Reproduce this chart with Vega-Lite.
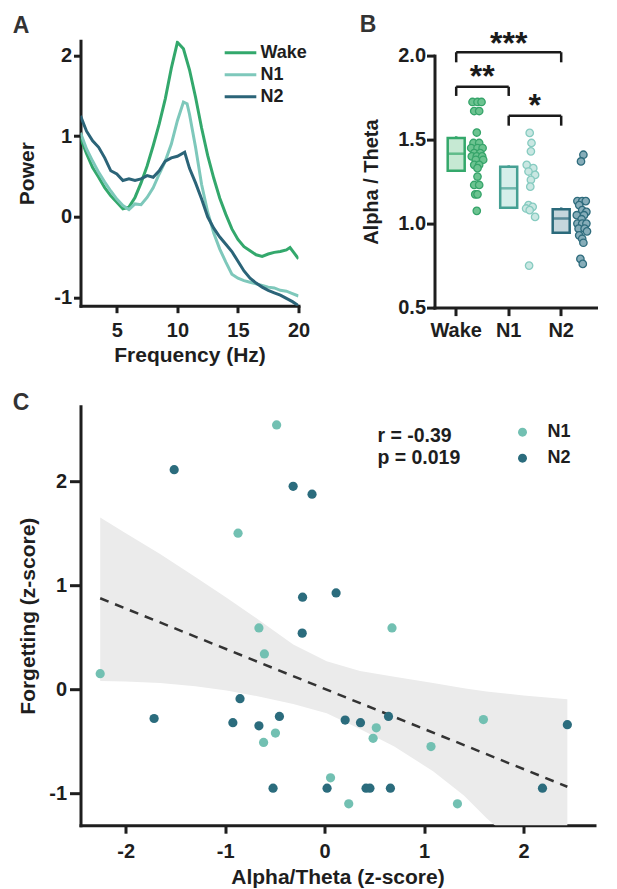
{
  "$schema": "https://vega.github.io/schema/vega-lite/v6.json",
  "background": "white",
  "padding": {"left": 12.5, "top": 13.7, "right": 0, "bottom": 0},
  "config": {
    "font": "Liberation Sans",
    "view": {"stroke": null},
    "locale": {"number": {"decimal": ".", "thousands": ",", "grouping": [3], "currency": ["$", ""], "minus": "-"}},
    "axis": {"grid": false, "domainColor": "#1e1e1e", "domainWidth": 3, "domainCap": "square", "tickColor": "#1e1e1e", "tickWidth": 3, "labelFontSize": 20, "labelFontWeight": "bold", "labelColor": "#1e1e1e", "titleFontSize": 21, "titleFontWeight": "bold", "titleColor": "#1e1e1e", "labelFont": "Liberation Sans", "titleFont": "Liberation Sans", "labelFlush": false, "labelOverlap": false},
    "title": {"fontSize": 23, "fontWeight": "bold", "color": "#333333", "anchor": "start", "frame": "bounds", "font": "Liberation Sans"},
    "legend": {"labelFont": "Liberation Sans", "labelFontWeight": "bold", "labelColor": "#1e1e1e", "padding": 0}
  },
  "datasets": {
    "psd": [
      {"s":"Wake","f":2,"p":0.98},{"s":"Wake","f":2.5,"p":0.78},{"s":"Wake","f":3,"p":0.61},{"s":"Wake","f":3.5,"p":0.49},{"s":"Wake","f":4,"p":0.36},{"s":"Wake","f":4.5,"p":0.26},{"s":"Wake","f":5,"p":0.18},{"s":"Wake","f":5.5,"p":0.10},{"s":"Wake","f":6,"p":0.12},{"s":"Wake","f":6.5,"p":0.24},{"s":"Wake","f":7,"p":0.42},{"s":"Wake","f":7.5,"p":0.63},{"s":"Wake","f":8,"p":0.88},{"s":"Wake","f":8.5,"p":1.15},{"s":"Wake","f":9,"p":1.46},{"s":"Wake","f":9.5,"p":1.84},{"s":"Wake","f":10,"p":2.16},{"s":"Wake","f":10.5,"p":2.08},{"s":"Wake","f":11,"p":1.82},{"s":"Wake","f":11.5,"p":1.48},{"s":"Wake","f":12,"p":1.10},{"s":"Wake","f":12.5,"p":0.76},{"s":"Wake","f":13,"p":0.48},{"s":"Wake","f":13.5,"p":0.23},{"s":"Wake","f":14,"p":0.03},{"s":"Wake","f":14.5,"p":-0.15},{"s":"Wake","f":15,"p":-0.28},{"s":"Wake","f":15.5,"p":-0.37},{"s":"Wake","f":16,"p":-0.42},{"s":"Wake","f":16.5,"p":-0.47},{"s":"Wake","f":17,"p":-0.49},{"s":"Wake","f":17.5,"p":-0.46},{"s":"Wake","f":18,"p":-0.44},{"s":"Wake","f":18.5,"p":-0.43},{"s":"Wake","f":19,"p":-0.41},{"s":"Wake","f":19.3,"p":-0.38},{"s":"Wake","f":19.6,"p":-0.44},{"s":"Wake","f":20,"p":-0.52},
      {"s":"N1","f":2,"p":1.04},{"s":"N1","f":2.5,"p":0.84},{"s":"N1","f":3,"p":0.69},{"s":"N1","f":3.5,"p":0.55},{"s":"N1","f":4,"p":0.43},{"s":"N1","f":4.5,"p":0.32},{"s":"N1","f":5,"p":0.22},{"s":"N1","f":5.5,"p":0.14},{"s":"N1","f":6,"p":0.09},{"s":"N1","f":6.5,"p":0.16},{"s":"N1","f":7,"p":0.15},{"s":"N1","f":7.5,"p":0.24},{"s":"N1","f":8,"p":0.36},{"s":"N1","f":8.5,"p":0.53},{"s":"N1","f":9,"p":0.69},{"s":"N1","f":9.5,"p":0.90},{"s":"N1","f":10,"p":1.19},{"s":"N1","f":10.5,"p":1.42},{"s":"N1","f":10.8,"p":1.40},{"s":"N1","f":11,"p":1.27},{"s":"N1","f":11.5,"p":0.86},{"s":"N1","f":12,"p":0.40},{"s":"N1","f":12.5,"p":0.06},{"s":"N1","f":13,"p":-0.20},{"s":"N1","f":13.5,"p":-0.40},{"s":"N1","f":14,"p":-0.56},{"s":"N1","f":14.5,"p":-0.71},{"s":"N1","f":15,"p":-0.76},{"s":"N1","f":15.5,"p":-0.79},{"s":"N1","f":16,"p":-0.81},{"s":"N1","f":16.5,"p":-0.83},{"s":"N1","f":17,"p":-0.85},{"s":"N1","f":17.5,"p":-0.87},{"s":"N1","f":18,"p":-0.88},{"s":"N1","f":18.5,"p":-0.91},{"s":"N1","f":19,"p":-0.92},{"s":"N1","f":19.5,"p":-0.95},{"s":"N1","f":20,"p":-0.98},
      {"s":"N2","f":2,"p":1.25},{"s":"N2","f":2.5,"p":1.06},{"s":"N2","f":3,"p":0.94},{"s":"N2","f":3.5,"p":0.86},{"s":"N2","f":4,"p":0.73},{"s":"N2","f":4.5,"p":0.57},{"s":"N2","f":5,"p":0.53},{"s":"N2","f":5.5,"p":0.45},{"s":"N2","f":6,"p":0.47},{"s":"N2","f":6.5,"p":0.45},{"s":"N2","f":7,"p":0.47},{"s":"N2","f":7.5,"p":0.51},{"s":"N2","f":8,"p":0.49},{"s":"N2","f":8.5,"p":0.57},{"s":"N2","f":9,"p":0.69},{"s":"N2","f":9.5,"p":0.73},{"s":"N2","f":10,"p":0.75},{"s":"N2","f":10.6,"p":0.80},{"s":"N2","f":11,"p":0.60},{"s":"N2","f":11.5,"p":0.42},{"s":"N2","f":12,"p":0.22},{"s":"N2","f":12.5,"p":0.0},{"s":"N2","f":13,"p":-0.14},{"s":"N2","f":13.5,"p":-0.25},{"s":"N2","f":14,"p":-0.34},{"s":"N2","f":14.5,"p":-0.43},{"s":"N2","f":15,"p":-0.55},{"s":"N2","f":15.5,"p":-0.67},{"s":"N2","f":16,"p":-0.76},{"s":"N2","f":16.5,"p":-0.82},{"s":"N2","f":17,"p":-0.87},{"s":"N2","f":17.5,"p":-0.91},{"s":"N2","f":18,"p":-0.94},{"s":"N2","f":18.5,"p":-0.97},{"s":"N2","f":19,"p":-1.01},{"s":"N2","f":19.5,"p":-1.05},{"s":"N2","f":20,"p":-1.10}
    ],
    "boxes": [
      {"g":"Wake","lo":1.314,"hi":1.51,"mean":1.416,"cap":1.52},
      {"g":"N1","lo":1.094,"hi":1.338,"mean":1.21,"cap":1.347},
      {"g":"N2","lo":0.946,"hi":1.086,"mean":1.03,"cap":1.096}
    ],
    "bpts": [
      {"g":"Wake","v":1.724,"j":-0.78},{"g":"Wake","v":1.724,"j":0.05},{"g":"Wake","v":1.724,"j":0.72},
      {"g":"Wake","v":1.67,"j":-0.5},{"g":"Wake","v":1.67,"j":0.33},
      {"g":"Wake","v":1.542,"j":-0.07},
      {"g":"Wake","v":1.48,"j":-0.62},{"g":"Wake","v":1.48,"j":0.33},
      {"g":"Wake","v":1.45,"j":-1.0},{"g":"Wake","v":1.45,"j":0.05},{"g":"Wake","v":1.45,"j":0.9},
      {"g":"Wake","v":1.42,"j":-0.5},{"g":"Wake","v":1.42,"j":0.5},
      {"g":"Wake","v":1.40,"j":-0.9},{"g":"Wake","v":1.40,"j":-0.07},{"g":"Wake","v":1.40,"j":0.83},
      {"g":"Wake","v":1.38,"j":-0.23},{"g":"Wake","v":1.38,"j":1.0},
      {"g":"Wake","v":1.35,"j":-0.5},{"g":"Wake","v":1.35,"j":0.33},
      {"g":"Wake","v":1.33,"j":0.05},
      {"g":"Wake","v":1.28,"j":0.05},
      {"g":"Wake","v":1.23,"j":-0.5},{"g":"Wake","v":1.23,"j":0.33},
      {"g":"Wake","v":1.174,"j":-0.33},{"g":"Wake","v":1.174,"j":0.05},
      {"g":"Wake","v":1.076,"j":-0.07},
      {"g":"N1","v":1.54,"j":0.0},{"g":"N1","v":1.48,"j":0.3},{"g":"N1","v":1.43,"j":0.2},{"g":"N1","v":1.35,"j":-0.5},{"g":"N1","v":1.33,"j":0.6},{"g":"N1","v":1.31,"j":-0.2},{"g":"N1","v":1.29,"j":0.9},{"g":"N1","v":1.26,"j":0.2},{"g":"N1","v":1.22,"j":0.1},{"g":"N1","v":1.11,"j":-0.2},{"g":"N1","v":1.10,"j":0.5},{"g":"N1","v":1.09,"j":-0.6},{"g":"N1","v":1.08,"j":0.0},{"g":"N1","v":1.04,"j":0.9},{"g":"N1","v":0.75,"j":-0.1},
      {"g":"N2","v":1.41,"j":0.2},{"g":"N2","v":1.37,"j":-0.2},
      {"g":"N2","v":1.134,"j":-0.8},{"g":"N2","v":1.134,"j":0.0},{"g":"N2","v":1.134,"j":0.6},
      {"g":"N2","v":1.11,"j":-0.5},
      {"g":"N2","v":1.08,"j":0.0},{"g":"N2","v":1.07,"j":0.7},
      {"g":"N2","v":1.05,"j":-0.9},{"g":"N2","v":1.05,"j":0.3},
      {"g":"N2","v":1.026,"j":-0.1},
      {"g":"N2","v":1.0,"j":-0.8},{"g":"N2","v":1.0,"j":0.0},{"g":"N2","v":1.0,"j":0.7},
      {"g":"N2","v":0.97,"j":-0.6},{"g":"N2","v":0.97,"j":0.4},
      {"g":"N2","v":0.954,"j":0.8},
      {"g":"N2","v":0.93,"j":-0.5},
      {"g":"N2","v":0.91,"j":0.0},
      {"g":"N2","v":0.886,"j":0.2},
      {"g":"N2","v":0.79,"j":-0.3},
      {"g":"N2","v":0.76,"j":0.1}
    ],
    "brk": [
      {"a":"Wake","b":"N2","y":2.02},
      {"a":"Wake","b":"N1","y":1.815},
      {"a":"N1","b":"N2","y":1.642}
    ],
    "legs": [
      {"g":"Wake","y":2.02,"yl":1.96},{"g":"N2","y":2.02,"yl":1.96},
      {"g":"Wake","y":1.815,"yl":1.76},{"g":"N1","y":1.815,"yl":1.76},
      {"g":"N1","y":1.642,"yl":1.583},{"g":"N2","y":1.642,"yl":1.583}
    ],
    "star3": [{"t":"***","g":"N1","y":2.01}],
    "star12": [{"t":"**","g":"Wake","y":1.811},{"t":"*","g":"N1","y":1.642}],
    "ci": [
      {"x":-2.257,"lo":0.08,"hi":1.65},{"x":-2.0,"lo":0.075,"hi":1.50},{"x":-1.655,"lo":0.06,"hi":1.30},{"x":-1.3,"lo":0.03,"hi":1.08},{"x":-0.986,"lo":-0.01,"hi":0.88},{"x":-0.651,"lo":-0.07,"hi":0.66},{"x":-0.316,"lo":-0.14,"hi":0.43},{"x":0.02,"lo":-0.23,"hi":0.27},{"x":0.355,"lo":-0.38,"hi":0.176},{"x":0.7,"lo":-0.55,"hi":0.12},{"x":1.09,"lo":-0.786,"hi":0.06},{"x":1.4,"lo":-1.02,"hi":0.01},{"x":1.626,"lo":-1.235,"hi":-0.02},{"x":2.0,"lo":-1.55,"hi":-0.06},{"x":2.44,"lo":-1.78,"hi":-0.096}
    ],
    "fit": [{"x":-2.257,"y":0.875},{"x":2.44,"y":-0.936}],
    "scat": [
      {"g":"N1","x":-2.257,"y":0.15},{"g":"N1","x":-0.483,"y":2.54},{"g":"N1","x":-0.871,"y":1.50},{"g":"N1","x":-0.661,"y":0.59},{"g":"N1","x":-0.606,"y":0.34},{"g":"N1","x":-0.614,"y":-0.51},{"g":"N1","x":-0.495,"y":-0.42},{"g":"N1","x":0.519,"y":-0.37},{"g":"N1","x":0.487,"y":-0.47},{"g":"N1","x":0.677,"y":0.59},{"g":"N1","x":1.069,"y":-0.55},{"g":"N1","x":1.596,"y":-0.29},{"g":"N1","x":0.059,"y":-0.85},{"g":"N1","x":0.242,"y":-1.10},{"g":"N1","x":1.335,"y":-1.10},
      {"g":"N2","x":-1.513,"y":2.11},{"g":"N2","x":-0.317,"y":1.95},{"g":"N2","x":-0.127,"y":1.875},{"g":"N2","x":-0.222,"y":0.885},{"g":"N2","x":0.115,"y":0.926},{"g":"N2","x":-0.226,"y":0.54},{"g":"N2","x":-0.851,"y":-0.09},{"g":"N2","x":-1.715,"y":-0.28},{"g":"N2","x":-0.923,"y":-0.32},{"g":"N2","x":-0.661,"y":-0.35},{"g":"N2","x":-0.455,"y":-0.26},{"g":"N2","x":0.206,"y":-0.295},{"g":"N2","x":0.36,"y":-0.32},{"g":"N2","x":0.642,"y":-0.26},{"g":"N2","x":2.44,"y":-0.34},{"g":"N2","x":-0.519,"y":-0.95},{"g":"N2","x":0.024,"y":-0.95},{"g":"N2","x":0.416,"y":-0.95},{"g":"N2","x":0.455,"y":-0.95},{"g":"N2","x":0.661,"y":-0.95},{"g":"N2","x":2.19,"y":-0.95}
    ],
    "ann": [{"t":"r = -0.39","x":0.53,"y":2.38},{"t":"p = 0.019","x":0.53,"y":2.163}]
  },
  "resolve": {"scale": {"color": "independent"}, "legend": {"color": "independent"}},
  "vconcat": [
    {
      "resolve": {"scale": {"color": "independent"}, "legend": {"color": "independent"}},
      "hconcat": [
        {
          "title": {"text": "A", "offset": 3, "dx": -4},
          "width": 218,
          "height": 265,
          "data": {"name": "psd"},
          "mark": {"type": "line", "strokeWidth": 3, "clip": true},
          "encoding": {
            "x": {"field": "f", "type": "quantitative", "scale": {"domain": [2, 20], "nice": false, "zero": false}, "axis": {"values": [5, 10, 15, 20], "format": ".0f", "title": "Frequency (Hz)", "tickSize": 7, "labelPadding": 8, "titlePadding": 4}},
            "y": {"field": "p", "type": "quantitative", "scale": {"domain": [-1.1, 2.18], "nice": false, "zero": false}, "axis": {"values": [-1, 0, 1, 2], "format": ".0f", "title": "Power", "tickSize": 7, "labelPadding": 2, "titlePadding": 16}},
            "color": {"field": "s", "type": "nominal", "sort": ["Wake", "N1", "N2"], "scale": {"domain": ["Wake", "N1", "N2"], "range": ["#33a86c", "#7ec8bb", "#2b6478"]}, "legend": {"title": null, "orient": "none", "legendX": 150.5, "legendY": 2.5, "symbolType": "M-2,0H2", "symbolSize": 250, "symbolStrokeWidth": 3, "symbolFillColor": "transparent", "labelFontSize": 18, "labelOffset": 10.5, "rowPadding": 3}}
          }
        },
        {
          "bounds": "flush",
          "spacing": 13.9,
          "vconcat": [
            {
              "width": 163,
              "height": 1,
              "data": {"values": []},
              "mark": {"type": "point"}
            },
            {
              "title": {"text": "B", "offset": -9, "dx": -2},
              "width": 163,
              "height": 252,
              "layer": [
                {
                  "data": {"name": "boxes"},
                  "mark": {"type": "bar", "width": 17, "strokeWidth": 2.5},
                  "encoding": {
                    "x": {"field": "g", "type": "nominal", "scale": {"domain": ["Wake", "N1", "N2"], "paddingInner": 0.4, "paddingOuter": 0.2524, "align": 0.2245}, "axis": {"title": null, "labelAngle": 0, "tickSize": 8, "labelPadding": 5}},
                    "y": {"field": "lo", "type": "quantitative", "scale": {"domain": [0.5, 2.0], "nice": false, "zero": false}, "axis": {"values": [0.5, 1, 1.5, 2], "format": ".1f", "title": "Alpha / Theta", "titleFontSize": 20, "tickSize": 8, "labelPadding": 1, "titlePadding": 16}},
                    "y2": {"field": "hi"},
                    "fill": {"field": "g", "type": "nominal", "scale": {"domain": ["Wake", "N1", "N2"], "range": ["#c6e9d3", "#d5eeea", "#c5d6dc"]}, "legend": null},
                    "stroke": {"field": "g", "type": "nominal", "scale": {"domain": ["Wake", "N1", "N2"], "range": ["#34a86b", "#45a093", "#2b6a7b"]}, "legend": null}
                  }
                },
                {
                  "data": {"name": "boxes"},
                  "mark": {"type": "tick", "orient": "horizontal", "thickness": 2.5, "size": 17},
                  "encoding": {
                    "x": {"field": "g", "type": "nominal"},
                    "y": {"field": "mean", "type": "quantitative"},
                    "color": {"field": "g", "type": "nominal", "scale": {"domain": ["Wake", "N1", "N2"], "range": ["#34a86b", "#45a093", "#2b6a7b"]}, "legend": null}
                  }
                },
                {
                  "data": {"name": "boxes"},
                  "mark": {"type": "rule", "strokeWidth": 2.5},
                  "encoding": {
                    "x": {"field": "g", "type": "nominal"},
                    "y": {"field": "hi", "type": "quantitative"},
                    "y2": {"field": "cap"},
                    "color": {"field": "g", "type": "nominal", "scale": {"domain": ["Wake", "N1", "N2"], "range": ["#34a86b", "#45a093", "#2b6a7b"]}, "legend": null}
                  }
                },
                {
                  "data": {"name": "bpts"},
                  "mark": {"type": "circle", "size": 55, "strokeWidth": 1.3, "opacity": 1},
                  "encoding": {
                    "x": {"field": "g", "type": "nominal"},
                    "xOffset": {"field": "j", "type": "quantitative", "scale": {"domain": [-1, 1], "range": [30.75, 42.75]}},
                    "y": {"field": "v", "type": "quantitative"},
                    "fill": {"field": "g", "type": "nominal", "scale": {"domain": ["Wake", "N1", "N2"], "range": ["#6cc390", "#c9e7e2", "#86adb9"]}, "legend": null},
                    "stroke": {"field": "g", "type": "nominal", "scale": {"domain": ["Wake", "N1", "N2"], "range": ["#36a46a", "#86cbc0", "#2f6c7d"]}, "legend": null}
                  }
                },
                {
                  "data": {"name": "brk"},
                  "mark": {"type": "rule", "strokeWidth": 2.5, "color": "#1a1a1a"},
                  "encoding": {
                    "x": {"field": "a", "type": "nominal"},
                    "x2": {"field": "b"},
                    "y": {"field": "y", "type": "quantitative"}
                  }
                },
                {
                  "data": {"name": "legs"},
                  "mark": {"type": "rule", "strokeWidth": 2.5, "color": "#1a1a1a"},
                  "encoding": {
                    "x": {"field": "g", "type": "nominal"},
                    "y": {"field": "y", "type": "quantitative"},
                    "y2": {"field": "yl"}
                  }
                },
                {
                  "data": {"name": "star3"},
                  "mark": {"type": "text", "fontSize": 32, "fontWeight": "bold", "baseline": "alphabetic", "color": "#1a1a1a"},
                  "encoding": {
                    "x": {"field": "g", "type": "nominal"},
                    "y": {"field": "y", "type": "quantitative"},
                    "text": {"field": "t"}
                  }
                },
                {
                  "data": {"name": "star12"},
                  "mark": {"type": "text", "fontSize": 32, "fontWeight": "bold", "baseline": "alphabetic", "color": "#1a1a1a", "dx": 26},
                  "encoding": {
                    "x": {"field": "g", "type": "nominal"},
                    "y": {"field": "y", "type": "quantitative"},
                    "text": {"field": "t"}
                  }
                }
              ],
              "resolve": {"scale": {"fill": "independent", "stroke": "independent", "color": "independent"}}
            }
          ]
        }
      ],
      "spacing": 49
    },
    {
      "title": {"text": "C", "offset": -9, "dx": -5},
      "width": 514,
      "height": 419,
      "layer": [
        {
          "data": {"name": "ci"},
          "mark": {"type": "area", "color": "#ebebeb", "opacity": 1, "clip": true},
          "encoding": {
            "x": {"field": "x", "type": "quantitative", "scale": {"domain": [-2.455, 2.713], "nice": false, "zero": false}, "axis": {"values": [-2, -1, 0, 1, 2], "format": ".0f", "title": "Alpha/Theta (z-score)", "tickSize": 8, "labelPadding": 8, "titlePadding": 5}},
            "y": {"field": "lo", "type": "quantitative", "scale": {"domain": [-1.305, 2.72], "nice": false, "zero": false}, "axis": {"values": [-1, 0, 1, 2], "format": ".0f", "title": "Forgetting (z-score)", "tickSize": 11, "labelPadding": 3, "titlePadding": 10}},
            "y2": {"field": "hi"}
          }
        },
        {
          "data": {"name": "fit"},
          "mark": {"type": "line", "strokeDash": [9, 7], "strokeWidth": 2.5, "color": "#333333"},
          "encoding": {
            "x": {"field": "x", "type": "quantitative"},
            "y": {"field": "y", "type": "quantitative"}
          }
        },
        {
          "data": {"name": "scat"},
          "mark": {"type": "circle", "size": 85, "opacity": 1},
          "encoding": {
            "x": {"field": "x", "type": "quantitative"},
            "y": {"field": "y", "type": "quantitative"},
            "color": {"field": "g", "type": "nominal", "scale": {"domain": ["N1", "N2"], "range": ["#72c0b2", "#2b6c7d"]}, "legend": {"title": null, "orient": "none", "legendX": 433, "legendY": 17, "symbolType": "circle", "symbolSize": 80, "symbolOpacity": 1, "labelFontSize": 18, "labelOffset": 16, "rowPadding": 8}}
          }
        },
        {
          "data": {"name": "ann"},
          "mark": {"type": "text", "fontSize": 19.5, "fontWeight": "bold", "align": "left", "baseline": "alphabetic", "color": "#1e1e1e"},
          "encoding": {
            "x": {"field": "x", "type": "quantitative"},
            "y": {"field": "y", "type": "quantitative"},
            "text": {"field": "t"}
          }
        }
      ]
    }
  ],
  "spacing": 26.5
}
